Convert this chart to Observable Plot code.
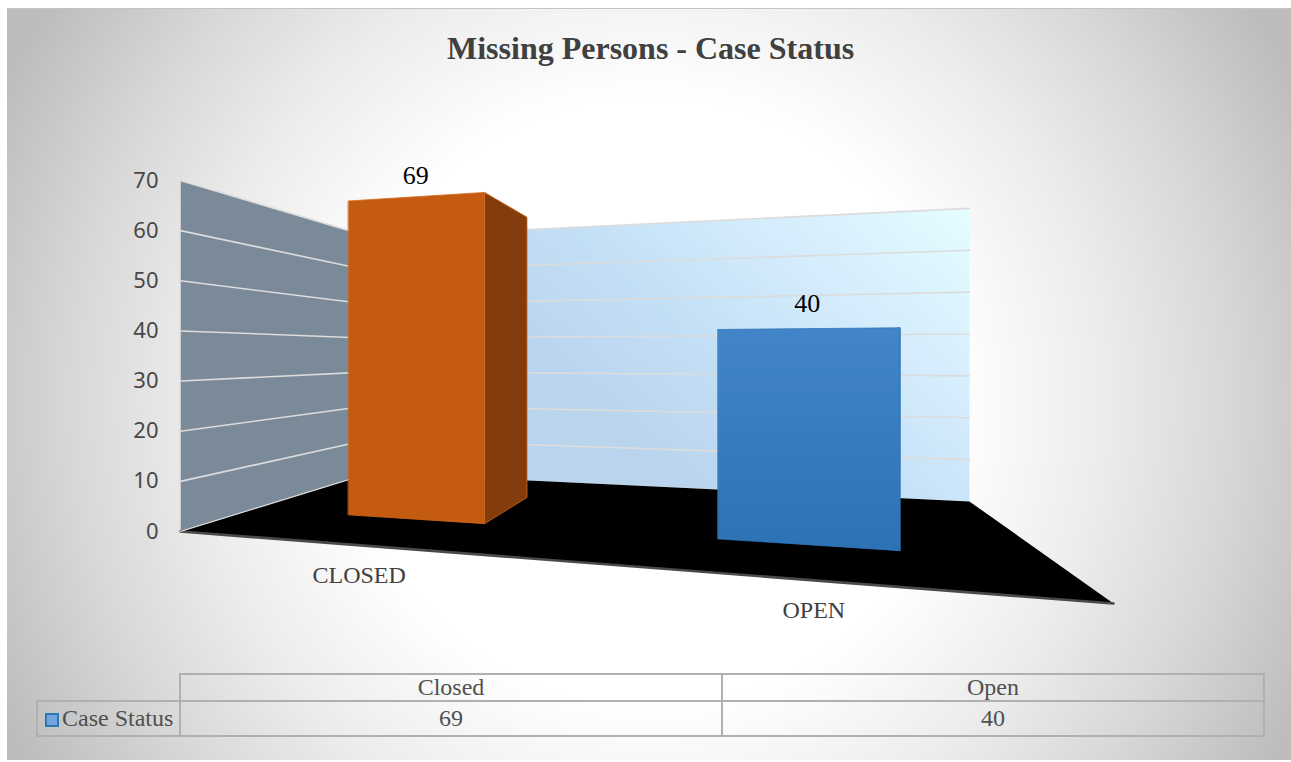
<!DOCTYPE html>
<html>
<head>
<meta charset="utf-8">
<script src="https://cdn.jsdelivr.net/npm/d3@7"></script>
<script src="https://cdn.jsdelivr.net/npm/@observablehq/plot@0.6"></script>
<style>
  html, body { margin: 0; padding: 0; background: #fff; overflow: hidden; }
  #frame { position: absolute; left: 7px; top: 8px; width: 1284px; height: 752px; overflow: hidden;
    border-top: 1px solid #c4c4c4; box-sizing: border-box;
    background: radial-gradient(circle 722px at 643px 392px, #ffffff 0%, #ffffff 42%, #ececec 63%, #d8d8d8 80%, #bcbcbc 100%); }
  #chart { position: absolute; left: 0; top: 0; width: 1291px; height: 680px; }
  #title { position: absolute; left: 447px; top: 29px; width: 406px; text-align: center; white-space: nowrap;
    font: bold 32px "Liberation Serif", serif; color: #404040; line-height: 38px; }
  table { position: absolute; left: 36px; top: 673px; border-collapse: collapse; table-layout: fixed;
    font: 24px "Liberation Serif", serif; color: #505050; }
  td { border: 2px solid #b0b0b0; text-align: center; padding: 0; white-space: nowrap; overflow: hidden; }
  td.blank { border-left: none; border-top: none; }
  tr.head td { height: 25px; line-height: 25px; }
  tr.row td { height: 33px; line-height: 33px; }
  .key { display: inline-block; width: 10px; height: 10px; background: #70a4dc; border: 2px solid #2e75b6; margin-right: 3px; vertical-align: -1px; }
</style>
</head>
<body>
<div id="frame"></div>
<div id="chart"></div>
<div id="title"></div>
<div id="tbl"></div>
<script>
// ---- data ----
const titleText = "Missing Persons - Case Status";
const seriesName = "Case Status";
const categories = ["Closed", "Open"];
const axisLabels = ["CLOSED", "OPEN"];
const values = [69, 40];
const yTicks = [0, 10, 20, 30, 40, 50, 60, 70];
const barFills = ["#c55a11", "url(#openFill)"];
const barStrokes = ["#d2691e", "#2e75b6"];
const sideFills = ["#843c0c", "#1f4e79"];
const valueLabelDy = [-13, -17];

// ---- the 3D floor: a perspective map of the unit square (u along the front, v into the depth) ----
const P = {a: 610, b: 370.5, c: 180, d: -103, e: 172, f: 531, g: -0.2902, h: 0.4879};
const pxPerUnit = 351 / 70;
function project(u, v, value) {
  const w = 1 + P.g * u + P.h * v;
  return {
    x: (P.a * u + P.b * v + P.c) / w,
    y: (P.f - (P.d * u + P.e * v + P.f) / w) / pxPerUnit + value / w
  };
}
const maxY = d3.max(yTicks);
const barHalf = 0.1, v0 = 0.3, v1 = 0.69;
const centers = categories.map((_, i) => 0.2515 + i * 0.498);

const poly = (pts, options) => Plot.line(pts, {x: "x", y: "y", curve: "linear-closed", ...options});
const path = (pts, options) => Plot.line(pts, {x: "x", y: "y", ...options});

const leftWall = [project(0,0,0), project(0,1,0), project(0,1,maxY), project(0,0,maxY)];
const backWall = [project(0,1,0), project(1,1,0), project(1,1,maxY), project(0,1,maxY)];
const floor = [project(0,0,0), project(1,0,0), project(1,1,0), project(0,1,0)];
const gridLeft = yTicks.slice(1).map(t => path([project(0,0,t), project(0,1,t)], {stroke: "#dcdcdc", strokeWidth: 1.6}));
const gridBack = yTicks.slice(1).map(t => path([project(0,1,t), project(1,1,t)], {stroke: "#dcdcdc", strokeWidth: 1.6}));

const barMarks = values.flatMap((val, i) => {
  const u0 = centers[i] - barHalf, u1 = centers[i] + barHalf;
  return [
    poly([project(u1,v0,0), project(u1,v1,0), project(u1,v1,val), project(u1,v0,val)],
         {fill: sideFills[i], stroke: barStrokes[i], strokeWidth: 0.8}),
    poly([project(u0,v0,0), project(u1,v0,0), project(u1,v0,val), project(u0,v0,val)],
         {fill: barFills[i], stroke: barStrokes[i], strokeWidth: 0.8})
  ];
});
const valueLabels = values.map((val, i) => ({...project(centers[i], v0, val), label: String(val), dy: valueLabelDy[i]}));
const catLabels = axisLabels.map((l, i) => ({...project(centers[i], 0, 0), label: l}));

function gradients() {
  const defs = d3.create("svg:defs");
  const add = (id, x1, y1, x2, y2, stops) => {
    const g = defs.append("linearGradient").attr("id", id).attr("gradientUnits", "userSpaceOnUse")
      .attr("x1", x1).attr("y1", y1).attr("x2", x2).attr("y2", y2);
    stops.forEach(([o, c]) => g.append("stop").attr("offset", o).attr("stop-color", c));
  };
  add("wallFill", 960, 205, 700, 500, [[0, "#e4fdff"], [0.4, "#d3ebfc"], [0.7, "#c3dff5"], [1, "#bad4ee"]]);
  add("openFill", 0, 320, 0, 550, [[0, "#4285c9"], [1, "#2e72b6"]]);
  return defs.node();
}

const plot = Plot.plot({
  width: 1291, height: 680,
  marginTop: 0, marginRight: 0, marginBottom: 0, marginLeft: 158,
  style: {background: "transparent", overflow: "visible"},
  x: {domain: [0, 1291], range: [0, 1291], axis: null},
  y: {domain: [0, maxY], range: [531, 180], label: null},
  marks: [
    gradients,
    Plot.axisY({ticks: yTicks, tickSize: 0, tickPadding: 0, label: null, fontSize: 22,
                fontFamily: "'Noto Sans', sans-serif", fill: "#484848", anchor: "left"}),
    poly(leftWall, {fill: "#7a8a99", stroke: "#dcdcdc", strokeWidth: 1}),
    poly(backWall, {fill: "url(#wallFill)", stroke: "none"}),
    ...gridLeft,
    ...gridBack,
    poly(floor, {fill: "#000", stroke: "none"}),
    path([project(0,0,0), project(1,0,0)], {stroke: "#4a4a4a", strokeWidth: 2.6}),
    path([project(0,0,0), project(0,1,0)], {stroke: "#dcdcdc", strokeWidth: 1.2}),
    ...barMarks,
    ...valueLabels.map(d => Plot.text([d], {x: "x", y: "y", text: "label", lineAnchor: "bottom", dy: d.dy, dx: 1,
      fontSize: 26, fontFamily: "'Liberation Serif', serif", fill: "#000"})),
    Plot.text(catLabels, {x: "x", y: "y", text: "label", lineAnchor: "top", dy: 21, dx: -1,
      fontSize: 24, fontFamily: "'Liberation Serif', serif", fill: "#404040"})
  ]
});
document.getElementById("chart").append(plot);
document.getElementById("title").textContent = titleText;

// data table under the chart
const colW = [143, 542, 542];
const tbl = d3.select("#tbl").append("table");
const cg = tbl.append("colgroup");
colW.forEach(w => cg.append("col").style("width", w + "px"));
tbl.style("width", d3.sum(colW) + "px");
const head = tbl.append("tr").attr("class", "head");
head.append("td").attr("class", "blank");
categories.forEach(c => head.append("td").text(c));
const row = tbl.append("tr").attr("class", "row");
const first = row.append("td").style("text-align", "left").style("padding-left", "7px");
first.append("span").attr("class", "key");
first.append("span").text(seriesName);
values.forEach(v => row.append("td").text(v));
</script>
</body>
</html>
